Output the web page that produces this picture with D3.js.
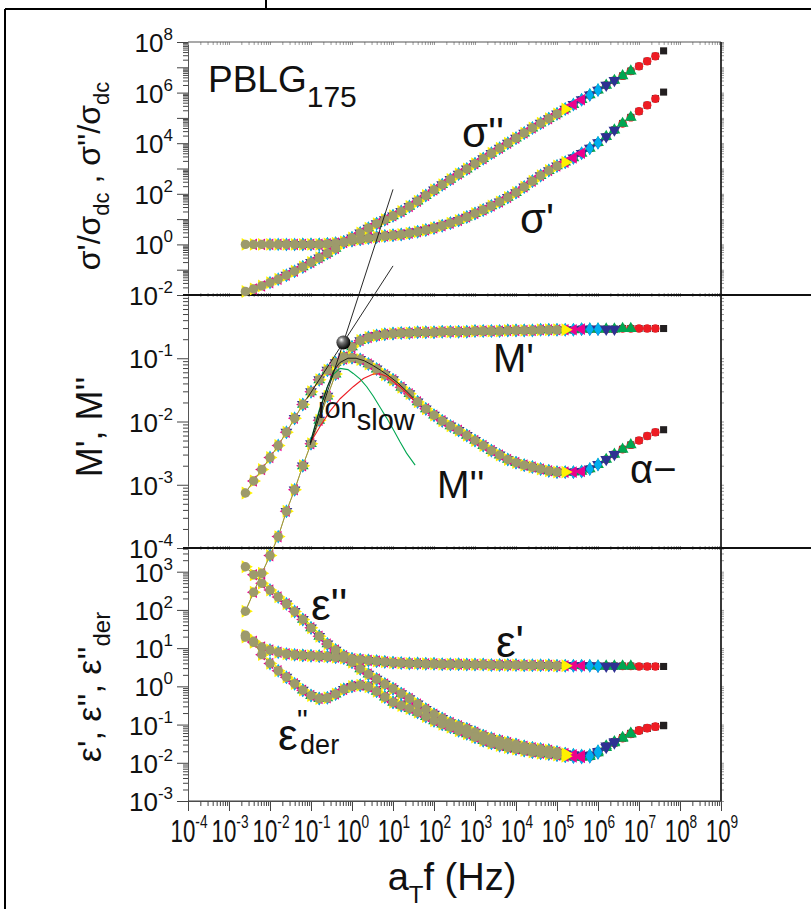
<!DOCTYPE html>
<html>
<head>
<meta charset="utf-8">
<script src="https://cdn.jsdelivr.net/npm/d3@7"></script>
<style>
body{margin:0;background:#fff;}
svg{display:block;}
text{font-family:"Liberation Sans", Arial, sans-serif; fill:#111;}
</style>
</head>
<body>
<div id="container"></div>
<script>
// log10 of a_T f for the master curves (Hz)
let logF = [-2.6,-2.4,-2.2,-2.0,-1.8,-1.6,-1.4,-1.2,-1.0,-0.8,
  -0.6,-0.4,-0.2,0.0,0.2,0.4,0.6,0.8,1.0,1.2,
  1.4,1.6,1.8,2.0,2.2,2.4,2.6,2.8,3.0,3.2,
  3.4,3.6,3.8,4.0,4.2,4.4,4.6,4.8,5.0,5.2,
  5.4,5.6,5.8,6.0,6.2,6.4,6.6,6.8,7.0,7.2,
  7.4,7.6];

// log10 values
let sigP = [0,0,0,0,0,0,0,0,0,0,
  0.02,0.05,0.1,0.15,0.2,0.25,0.29,0.33,0.36,0.39,
  0.44,0.5,0.57,0.65,0.74,0.84,0.95,1.08,1.22,1.36,
  1.52,1.68,1.86,2.05,2.27,2.5,2.72,2.92,3.1,3.25,
  3.42,3.6,3.8,4.02,4.26,4.52,4.78,5.02,5.26,5.5,
  5.76,6.02];
let sigPP = [-1.86,-1.76,-1.64,-1.51,-1.38,-1.22,-1.06,-0.89,-0.71,-0.53,
  -0.35,-0.16,0.08,0.26,0.45,0.64,0.82,0.98,1.13,1.3,
  1.5,1.71,1.93,2.15,2.36,2.57,2.78,2.98,3.19,3.39,
  3.6,3.8,4.0,4.2,4.4,4.6,4.79,4.97,5.16,5.35,
  5.53,5.72,5.91,6.1,6.29,6.48,6.66,6.85,7.04,7.24,
  7.44,7.65];
let mP = [-5.0,-4.7,-4.4,-4.12,-3.82,-3.42,-3.08,-2.7,-2.35,-1.98,
  -1.6,-1.25,-0.98,-0.82,-0.72,-0.67,-0.64,-0.62,-0.61,-0.6,
  -0.6,-0.59,-0.59,-0.59,-0.58,-0.58,-0.58,-0.58,-0.57,-0.57,
  -0.57,-0.57,-0.56,-0.56,-0.56,-0.56,-0.55,-0.55,-0.55,-0.55,
  -0.55,-0.54,-0.54,-0.54,-0.54,-0.54,-0.53,-0.53,-0.53,-0.53,
  -0.53,-0.53];
let mPP = [-3.13,-2.94,-2.76,-2.57,-2.38,-2.17,-1.95,-1.73,-1.53,-1.34,
  -1.19,-1.07,-1.01,-0.99,-1.02,-1.09,-1.17,-1.26,-1.34,-1.46,
  -1.56,-1.69,-1.8,-1.9,-1.99,-2.07,-2.14,-2.22,-2.3,-2.38,
  -2.46,-2.53,-2.6,-2.65,-2.69,-2.72,-2.75,-2.78,-2.8,-2.8,
  -2.8,-2.79,-2.75,-2.68,-2.6,-2.52,-2.44,-2.37,-2.3,-2.23,
  -2.17,-2.13];
let epsP = [1.34,1.18,1.03,0.95,0.89,0.85,0.83,0.81,0.8,0.79,
  0.78,0.76,0.74,0.72,0.7,0.68,0.66,0.64,0.62,0.61,
  0.6,0.6,0.59,0.59,0.58,0.58,0.58,0.57,0.57,0.57,
  0.56,0.56,0.56,0.56,0.55,0.55,0.55,0.55,0.54,0.54,
  0.54,0.54,0.54,0.53,0.53,0.53,0.53,0.53,0.52,0.52,
  0.52,0.52];
let epsPP = [3.13,2.92,2.70,2.52,2.34,2.16,1.96,1.75,1.53,1.31,
  1.11,0.95,0.8,0.63,0.46,0.32,0.19,0.06,-0.06,-0.19,
  -0.32,-0.46,-0.6,-0.73,-0.84,-0.95,-1.03,-1.11,-1.2,-1.29,
  -1.36,-1.42,-1.47,-1.52,-1.57,-1.61,-1.64,-1.67,-1.72,-1.76,
  -1.79,-1.81,-1.8,-1.7,-1.56,-1.45,-1.34,-1.23,-1.15,-1.09,
  -1.05,-1.02];
let epsDer = [1.29,1.15,0.83,0.6,0.41,0.24,0.07,-0.1,-0.24,-0.32,
  -0.3,-0.2,-0.08,0.0,0.03,-0.01,-0.13,-0.28,-0.42,-0.5,
  -0.58,-0.68,-0.79,-0.9,-0.99,-1.07,-1.16,-1.24,-1.33,-1.42,
  -1.49,-1.55,-1.6,-1.64,-1.68,-1.72,-1.75,-1.77,-1.8,-1.83,
  -1.85,-1.86,-1.84,-1.74,-1.6,-1.48,-1.36,-1.25,-1.16,-1.1,
  -1.06,-1.03];

// the temperatures (one marker style each) and the log f range each one covers
let seriesNames = ["black","red","green","navy","cyan","magenta","yellow","olive"];
let seriesColors = ["#231f20","#ed1c24","#00a651","#2e3192","#00aeef","#ec008c","#fff200","#9d9a6c"];
let seriesFrom = [-0.4,-0.8,-1.2,-1.6,-2.0,-2.4,-2.6,-2.6];
let seriesTo = [7.6,7.4,6.8,6.4,6.0,5.6,5.2,5.0];

// fits in the M panel, [log f, log M]
let fitTotal = [[-1.02,-2.34],[-0.8,-1.85],[-0.6,-1.45],[-0.45,-1.2],[-0.3,-1.07],[-0.1,-1.0],[0.1,-1.0],[0.3,-1.04],[0.5,-1.11],[0.7,-1.19],[0.9,-1.28],[1.1,-1.38],[1.3,-1.5],[1.5,-1.63]];
let fitSlow = [[-1.02,-2.34],[-0.8,-1.82],[-0.6,-1.45],[-0.45,-1.25],[-0.29,-1.16],[-0.1,-1.18],[0.03,-1.24],[0.2,-1.33],[0.36,-1.45],[0.52,-1.6],[0.68,-1.77],[0.85,-1.95],[1.01,-2.13],[1.17,-2.32],[1.33,-2.5],[1.54,-2.69]];
let fitFast = [[-1.02,-2.34],[-0.78,-2.08],[-0.54,-1.84],[-0.29,-1.64],[0.03,-1.45],[0.28,-1.32],[0.52,-1.25],[0.7,-1.25],[0.85,-1.29],[1.17,-1.45],[1.5,-1.66]];
let tangentSteep = [[-1.02,-2.37],[1.0,1.67]];
let tangentFlat = [[-1.1,-1.64],[1.0,0.46]];
let crossPoint = [-0.21,-0.75];

// tick labels (exponents)
let xExps = [-4,-3,-2,-1,0,1,2,3,4,5,6,7,8,9];
let topExps = [-2,0,2,4,6,8];
let midExps = [-4,-3,-2,-1];
let botExps = [-3,-2,-1,0,1,2,3];

let w = 811;
let h = 909;

let viz = d3.select("#container")
  .append("svg")
  .attr("width", w)
  .attr("height", h);

let xScale = d3.scaleLog().domain([1e-4, 1e9]).range([188, 721]);
let yTop = d3.scaleLog().domain([1e-2, 1e8]).range([295, 42]);
let yMid = d3.scaleLog().domain([1e-4, 1]).range([548, 295]);
let yBot = d3.scaleLog().domain([1e-3, Math.pow(10, 3.62)]).range([801, 548]);

function p10(v){ return Math.pow(10, v); }

// outer border of the figure cell
let border = viz.append("g").attr("stroke", "#000").attr("stroke-width", 2);
border.append("line").attr("x1", 5).attr("y1", 9).attr("x2", 811).attr("y2", 9);
border.append("line").attr("x1", 5).attr("y1", 9).attr("x2", 5).attr("y2", 909);
border.append("line").attr("x1", 266).attr("y1", 0).attr("x2", 266).attr("y2", 9);

// ---- axes ----
function minorsFor(domain){
  let out = [];
  let lo = Math.floor(Math.log10(domain[0])), hi = Math.ceil(Math.log10(domain[1]));
  for (let e = lo; e < hi; e++){
    for (let m = 2; m < 10; m++){
      let v = m * Math.pow(10, e);
      if (v >= domain[0] && v <= domain[1]) out.push(v);
    }
  }
  return out;
}
function majorsFor(domain){
  let out = [];
  let lo = Math.ceil(Math.log10(domain[0]) - 1e-9), hi = Math.floor(Math.log10(domain[1]) + 1e-9);
  for (let e = lo; e <= hi; e++) out.push(Math.pow(10, e));
  return out;
}

let axesGroup = viz.append("g").classed("axes", true);

[yTop, yMid, yBot].forEach(function(ys){
  let g1 = axesGroup.append("g").attr("transform", "translate(188,0)");
  g1.call(d3.axisLeft(ys).tickValues(majorsFor(ys.domain())).tickSize(11).tickSizeOuter(0).tickFormat(""));
  let g2 = axesGroup.append("g").attr("transform", "translate(188,0)");
  g2.call(d3.axisLeft(ys).tickValues(minorsFor(ys.domain())).tickSize(5).tickSizeOuter(0).tickFormat(""));
  // right side: small ticks
  let g3 = axesGroup.append("g").attr("transform", "translate(721,0)").classed("light", true);
  g3.call(d3.axisRight(ys).tickValues(minorsFor(ys.domain()).concat(majorsFor(ys.domain()))).tickSize(3).tickSizeOuter(0).tickFormat(""));
  g3.select(".domain").remove();
});

let xb1 = axesGroup.append("g").attr("transform", "translate(0,801)");
xb1.call(d3.axisBottom(xScale).tickValues(majorsFor(xScale.domain())).tickSize(10).tickSizeOuter(0).tickFormat(""));
let xb2 = axesGroup.append("g").attr("transform", "translate(0,801)");
xb2.call(d3.axisBottom(xScale).tickValues(minorsFor(xScale.domain())).tickSize(5).tickSizeOuter(0).tickFormat(""));
let xt = axesGroup.append("g").attr("transform", "translate(0,42)").classed("light", true);
xt.call(d3.axisBottom(xScale).tickValues(minorsFor(xScale.domain()).concat(majorsFor(xScale.domain()))).tickSize(3).tickSizeOuter(0).tickFormat(""));
xt.select(".domain").remove();
[295, 548].forEach(function(yy){
  let g = axesGroup.append("g").attr("transform", "translate(0," + (yy - 2) + ")").classed("light", true);
  g.call(d3.axisBottom(xScale).tickValues(minorsFor(xScale.domain()).concat(majorsFor(xScale.domain()))).tickSize(4).tickSizeOuter(0).tickFormat(""));
  g.select(".domain").remove();
});

axesGroup.selectAll(".domain").attr("stroke", "#555");
axesGroup.selectAll(".tick line").attr("stroke", "#444");
axesGroup.selectAll(".light .tick line").attr("stroke", "#999");

// frame lines
let frame = viz.append("g");
frame.append("line").attr("x1", 188).attr("y1", 42).attr("x2", 721).attr("y2", 42).attr("stroke", "#555").attr("stroke-width", 1.2);
frame.append("line").attr("x1", 721).attr("y1", 42).attr("x2", 721).attr("y2", 801).attr("stroke", "#222").attr("stroke-width", 1.8);
frame.append("line").attr("x1", 183).attr("y1", 295).attr("x2", 811).attr("y2", 295).attr("stroke", "#111").attr("stroke-width", 1.8);
frame.append("line").attr("x1", 183).attr("y1", 548).attr("x2", 811).attr("y2", 548).attr("stroke", "#111").attr("stroke-width", 1.8);
frame.append("line").attr("x1", 188).attr("y1", 801).attr("x2", 721).attr("y2", 801).attr("stroke", "#444").attr("stroke-width", 1.2);

// tick labels 10^n
function yLabels(ys, exps){
  exps.forEach(function(e){
    let t = viz.append("text")
      .attr("x", 173)
      .attr("y", ys(p10(e)) + 10)
      .attr("text-anchor", "end")
      .attr("font-size", 26);
    t.append("tspan").text("10");
    t.append("tspan").attr("dy", -12).attr("font-size", 17).text(e < 0 ? "-" + (-e) : e);
  });
}
yLabels(yTop, topExps);
yLabels(yMid, midExps);
yLabels(yBot, botExps);

// x labels are squeezed like the narrow font of the original
xExps.forEach(function(e){
  let t = viz.append("text")
    .attr("transform", "translate(" + (xScale(p10(e)) + 1) + ",842) scale(0.72,1)")
    .attr("text-anchor", "middle")
    .attr("font-size", 31);
  t.append("tspan").text("10");
  t.append("tspan").attr("dy", -14).attr("font-size", 19).text(e < 0 ? "-" + (-e) : e);
});

// ---- data ----
let shapes = {
  black: {type: d3.symbolSquare, rot: 0, size: 50},
  red: {type: d3.symbolCircle, rot: 0, size: 56},
  green: {type: d3.symbolTriangle, rot: 0, size: 60},
  navy: {type: d3.symbolTriangle, rot: 180, size: 60},
  cyan: {type: d3.symbolDiamond, rot: 0, size: 56},
  magenta: {type: d3.symbolTriangle, rot: -90, size: 58},
  yellow: {type: d3.symbolTriangle, rot: 90, size: 72},
  olive: {type: d3.symbolCircle, rot: 0, size: 70}
};

let curves = [
  {vals: sigP, ys: yTop},
  {vals: sigPP, ys: yTop},
  {vals: mP, ys: yMid},
  {vals: mPP, ys: yMid},
  {vals: epsP, ys: yBot},
  {vals: epsPP, ys: yBot},
  {vals: epsDer, ys: yBot}
];

let dataGroup = viz.append("g").classed("dataGroup", true);

seriesNames.forEach(function(name, si){
  let sh = shapes[name];
  curves.forEach(function(c){
    let pts = [];
    logF.forEach(function(lf, i){
      if (lf >= seriesFrom[si] - 1e-6 && lf <= seriesTo[si] + 1e-6) pts.push({lf: lf, v: c.vals[i]});
    });
    // the two lowest temperatures were plotted with a connecting line
    if (name == "olive" || name == "yellow"){
      dataGroup.append("path")
        .datum(pts)
        .attr("d", d3.line().x(d => xScale(p10(d.lf))).y(d => c.ys(p10(d.v))))
        .attr("fill", "none")
        .attr("stroke", name == "olive" ? "#8f8b5e" : "#f2e200")
        .attr("stroke-width", 1);
    }
    dataGroup.selectAll(null).data(pts).enter()
      .append("path")
      .attr("transform", function(d){
        return "translate(" + xScale(p10(d.lf)) + "," + c.ys(p10(d.v)) + ") rotate(" + sh.rot + ")";
      })
      .attr("d", d3.symbol().type(sh.type).size(sh.size))
      .attr("fill", seriesColors[si]);
  });
});

// fit curves + tangents in the modulus panel
let fitLine = d3.line().x(d => xScale(p10(d[0]))).y(d => yMid(p10(d[1])));
let fits = viz.append("g").attr("fill", "none");
fits.append("path").attr("d", fitLine(fitFast)).attr("stroke", "#ed1c24").attr("stroke-width", 1.1);
fits.append("path").attr("d", fitLine(fitSlow)).attr("stroke", "#00a651").attr("stroke-width", 1.1);
fits.append("path").attr("d", fitLine(fitTotal)).attr("stroke", "#111").attr("stroke-width", 0.9);
fits.append("path").attr("d", fitLine(tangentSteep)).attr("stroke", "#111").attr("stroke-width", 0.9);
fits.append("path").attr("d", fitLine(tangentFlat)).attr("stroke", "#111").attr("stroke-width", 0.9);

let defs = viz.append("defs");
let grad = defs.append("radialGradient").attr("id", "ball").attr("cx", "40%").attr("cy", "40%").attr("r", "60%").attr("fx", "35%").attr("fy", "30%");
grad.append("stop").attr("offset", "0%").attr("stop-color", "#ffffff");
grad.append("stop").attr("offset", "35%").attr("stop-color", "#777");
grad.append("stop").attr("offset", "100%").attr("stop-color", "#000");
viz.append("circle")
  .attr("cx", xScale(p10(crossPoint[0])))
  .attr("cy", yMid(p10(crossPoint[1])))
  .attr("r", 7)
  .attr("fill", "url(#ball)");

// ---- annotations ----
function label(x, y, size, parts){
  let t = viz.append("text").attr("x", x).attr("y", y).attr("font-size", size);
  parts.forEach(function(p){
    let s = t.append("tspan").text(p.t);
    if (p.dy) s.attr("dy", p.dy);
    if (p.dx) s.attr("dx", p.dx);
    if (p.size) s.attr("font-size", p.size);
  });
  return t;
}
label(208, 92, 37, [{t: "PBLG"}, {t: "175", dy: 15, size: 30}]);
label(462, 147, 42, [{t: "\u03c3''"}]);
label(520, 233, 42, [{t: "\u03c3'"}]);
label(493, 372, 40, [{t: "M'"}]);
label(437, 498, 39, [{t: "M''"}]);
label(630, 483, 40, [{t: "\u03b1\u2212"}]);
label(318, 418, 29, [{t: "ion"}, {t: "slow", dy: 12}]);
label(311, 620, 44, [{t: "\u03b5''"}]);
label(496, 657, 44, [{t: "\u03b5'"}]);
// primes raised after the epsilon, "der" as subscript under them
label(278, 750, 44, [{t: "\u03b5"}, {t: "''", dx: -1, dy: -20, size: 30}, {t: "der", dx: -8, dy: 24, size: 27}]);

// axis titles
let xt2 = viz.append("text").attr("x", 452).attr("y", 890).attr("text-anchor", "middle").attr("font-size", 38);
xt2.append("tspan").text("a");
xt2.append("tspan").attr("dy", 13).attr("font-size", 24).text("T");
xt2.append("tspan").attr("dy", -13).text("f (Hz)");

function yTitle(cx, cy, size, parts){
  let t = viz.append("text")
    .attr("transform", "translate(" + cx + "," + cy + ") rotate(-90)")
    .attr("text-anchor", "middle")
    .attr("font-size", size);
  parts.forEach(function(p){
    let s = t.append("tspan").text(p.t);
    if (p.dy) s.attr("dy", p.dy);
    if (p.size) s.attr("font-size", p.size);
  });
}
yTitle(100, 176, 32, [{t: "\u03c3'/\u03c3"}, {t: "dc", dy: 9, size: 22}, {t: " , \u03c3''/\u03c3", dy: -9}, {t: "dc", dy: 9, size: 22}]);
yTitle(102, 427, 36, [{t: "M', M''"}]);
yTitle(101, 687, 34, [{t: "\u03b5', \u03b5'', \u03b5''"}, {t: "der", dy: 9, size: 24}]);
</script>
</body>
</html>
